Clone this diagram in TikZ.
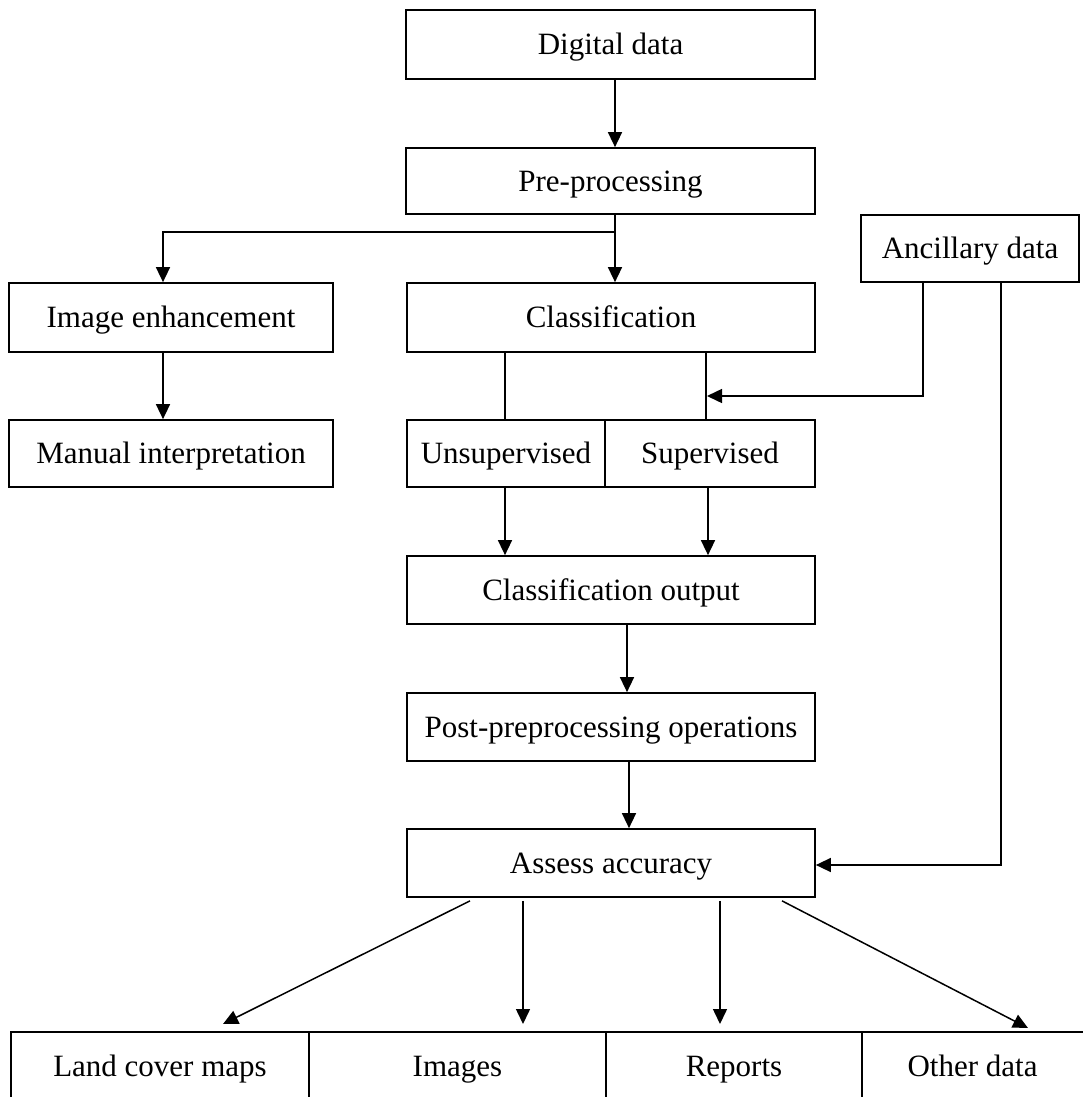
\documentclass[tikz,border=0pt]{standalone}
\usepackage{fontspec}
\setmainfont{Liberation Serif}
\usetikzlibrary{arrows.meta}
\begin{document}
\begin{tikzpicture}[x=1pt,y=-1pt,
  box/.style={draw, line width=1.7pt, inner sep=0pt, minimum height=68pt,
    text height=21pt, text depth=0.5pt, font=\fontsize{31}{36}\selectfont},
  label/.style={inner sep=0pt, text height=21pt, text depth=0.5pt,
    font=\fontsize{31}{36}\selectfont},
  ln/.style={line width=1.5pt},
  arr/.style={line width=1.5pt, -{Triangle[length=15pt,width=14pt]}},
  frame/.style={line width=1.7pt}]
\useasboundingbox (0,0) rectangle (1083,1097);
\fill[white] (0,0) rectangle (1083,1097);

% main chain of boxes
\node[box, minimum width=409pt, minimum height=69pt] (dd) at (610.5,44.5) {Digital data};
\node[box, minimum width=409pt, minimum height=66pt] (pp) at (610.5,181) {Pre-processing};
\node[box, minimum width=324pt, minimum height=69pt] (ie) at (171,317.5) {Image enhancement};
\node[box, minimum width=324pt, minimum height=67pt] (mi) at (171,453.5) {Manual interpretation};
\node[box, minimum width=218pt, minimum height=67pt] (an) at (970,248.5) {Ancillary data};
\node[box, minimum width=408pt, minimum height=69pt] (cl) at (611,317.5) {Classification};
\node[box, minimum width=198pt, minimum height=67pt] (un) at (506,453.5) {Unsupervised};
\node[box, minimum width=210pt, minimum height=67pt] (su) at (710,453.5) {Supervised};
\node[box, minimum width=408pt] (co) at (611,590) {Classification output};
\node[box, minimum width=408pt] (po) at (611,727) {Post-preprocessing operations};
\node[box, minimum width=408pt] (aa) at (611,863) {Assess accuracy};

% output row, running off the lower and right edges
\draw[frame] (11,1120) -- (11,1032) -- (1100,1032);
\foreach \xd in {309,606,862} \draw[frame] (\xd,1032) -- (\xd,1120);
\node[label] (lc) at (160,1066) {Land cover maps};
\node[label] (im) at (457.5,1066) {Images};
\node[label] (re) at (734,1066) {Reports};
\node[label] (od) at (972.5,1066) {Other data};

% connectors
\coordinate (br) at (615,232);
\coordinate (supin) at (707,396);
\coordinate (t1) at (223,1024);
\coordinate (t2) at (523,1024);
\coordinate (t3) at (720,1024);
\coordinate (t4) at (1028,1028);

\draw[arr] (dd.south -| br) -- (pp.north -| br);
\draw[arr] (pp.south -| br) -- (br) -| ([xshift=-8pt]ie.north);
\draw[arr] (br) -- (br |- cl.north);
\draw[arr] ([xshift=-8pt]ie.south) -- ([xshift=-8pt]mi.north);

\draw[ln] ([xshift=-1pt]un.north |- cl.south) -- ([xshift=-1pt]un.north);
\draw[ln] ([xshift=-4pt]su.north |- cl.south) -- ([xshift=-4pt]su.north);
\draw[arr] ([xshift=-47pt]an.south) |- (supin);

\draw[arr] ([xshift=-1pt]un.south) -- ([xshift=-1pt]un.south |- co.north);
\draw[arr] ([xshift=-2pt]su.south) -- ([xshift=-2pt]su.south |- co.north);
\draw[arr] ([xshift=16pt]co.south) -- ([xshift=16pt]co.south |- po.north);
\draw[arr] ([xshift=18pt]po.south) -- ([xshift=18pt]po.south |- aa.north);
\draw[arr] ([xshift=31pt]an.south) |- ([yshift=-2pt]aa.east);

\draw[arr] ([xshift=-141pt,yshift=-3pt]aa.south) -- (t1);
\draw[arr] ([xshift=-88pt,yshift=-3pt]aa.south) -- (t2);
\draw[arr] ([xshift=109pt,yshift=-3pt]aa.south) -- (t3);
\draw[arr] ([xshift=171pt,yshift=-3pt]aa.south) -- (t4);
\end{tikzpicture}
\end{document}
